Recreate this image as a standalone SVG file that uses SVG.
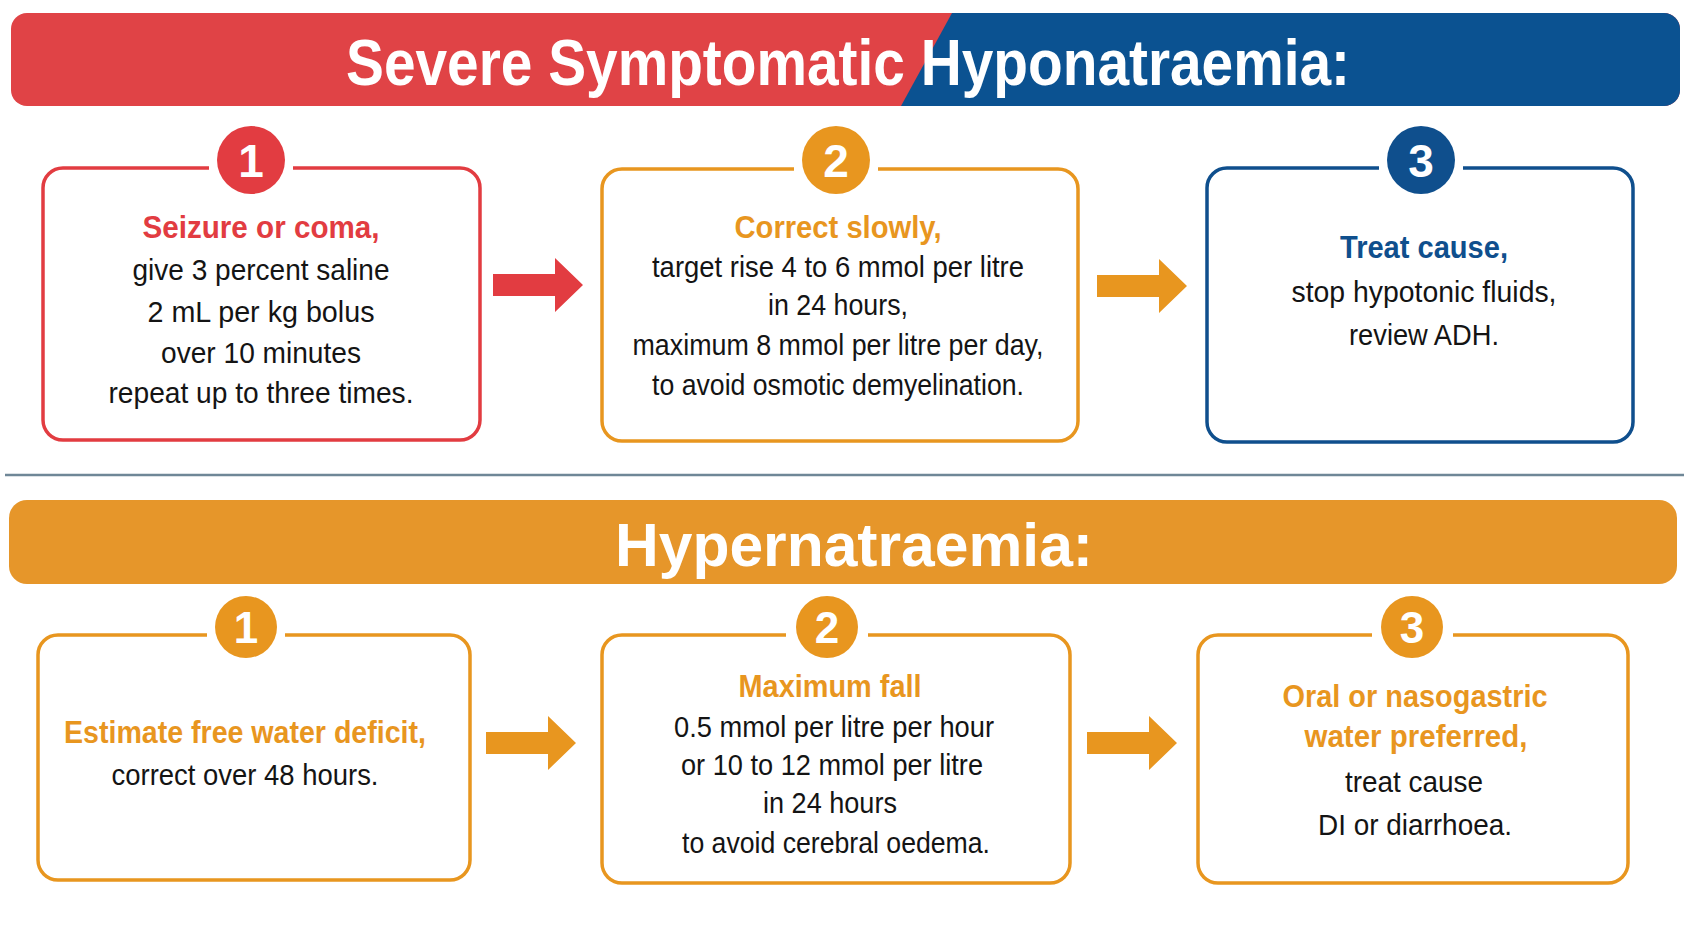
<svg xmlns="http://www.w3.org/2000/svg" width="1693" height="929" viewBox="0 0 1693 929">
  <style>
    .bg { fill: #ffffff; }
    .box { fill: #ffffff; stroke-width: 3.5; }
    .gap { fill: #ffffff; }
    .red { stroke: #E23C41; }
    .orange { stroke: #E8961F; }
    .blue { stroke: #0F4F8D; }
    .fill-red { fill: #E23C41; }
    .fill-orange { fill: #E8961F; }
    .fill-blue { fill: #0F4F8D; }
    .num { font-family: "Liberation Sans", Arial, sans-serif; font-weight: bold; fill: #ffffff; text-anchor: middle; }
    .head { font-family: "Liberation Sans", Arial, sans-serif; font-weight: bold; font-size: 31px; text-anchor: middle; }
    .body { font-family: "Liberation Sans", Arial, sans-serif; font-size: 29px; fill: #141414; text-anchor: middle; }
    .title { font-family: "Liberation Sans", Arial, sans-serif; font-weight: bold; fill: #ffffff; text-anchor: middle; }
  </style>
  <defs>
    <clipPath id="titleClip">
      <rect x="11" y="13" width="1669" height="93" rx="16"/>
    </clipPath>
    <!-- block arrow, origin at the left end of the shaft -->
    <path id="blockArrow" d="M0,-11 H62 V-27 L90,0 L62,27 V11 H0 Z"/>
  </defs>

  <rect class="bg" x="0" y="0" width="1693" height="929"/>

  <!-- Title bar: hyponatraemia -->
  <g id="title-hypo">
    <g clip-path="url(#titleClip)">
      <rect x="11" y="13" width="1669" height="93" fill="#E04346"/>
      <polygon points="952,13 1680,13 1680,106 901,106" fill="#0B5291"/>
    </g>
    <text class="title" x="848" y="85" font-size="64" textLength="1004" lengthAdjust="spacingAndGlyphs">Severe Symptomatic Hyponatraemia:</text>
  </g>

  <!-- Step 1: seizure or coma -->
  <g id="hypo-step1">
    <rect class="box red" x="43" y="168" width="437" height="272" rx="20"/>
    <rect class="gap" x="209" y="163" width="84" height="10"/>
    <circle class="fill-red" cx="251" cy="160" r="34"/>
    <text class="num" x="251" y="177" font-size="46">1</text>
    <text class="head" x="261" y="238" fill="#E23C41" textLength="237" lengthAdjust="spacingAndGlyphs">Seizure or coma,</text>
    <text class="body" x="261" y="280" textLength="257" lengthAdjust="spacingAndGlyphs">give 3 percent saline</text>
    <text class="body" x="261" y="322" textLength="227" lengthAdjust="spacingAndGlyphs">2 mL per kg bolus</text>
    <text class="body" x="261" y="363" textLength="200" lengthAdjust="spacingAndGlyphs">over 10 minutes</text>
    <text class="body" x="261" y="403" textLength="305" lengthAdjust="spacingAndGlyphs">repeat up to three times.</text>
  </g>

  <!-- Step 2: correct slowly -->
  <g id="hypo-step2">
    <rect class="box orange" x="602" y="169" width="476" height="272" rx="20"/>
    <rect class="gap" x="794" y="164" width="84" height="10"/>
    <circle class="fill-orange" cx="836" cy="160" r="34"/>
    <text class="num" x="836" y="177" font-size="46">2</text>
    <text class="head" x="838" y="238" fill="#E8961F" textLength="207" lengthAdjust="spacingAndGlyphs">Correct slowly,</text>
    <text class="body" x="838" y="277" textLength="372" lengthAdjust="spacingAndGlyphs">target rise 4 to 6 mmol per litre</text>
    <text class="body" x="838" y="315" textLength="140" lengthAdjust="spacingAndGlyphs">in 24 hours,</text>
    <text class="body" x="838" y="355" textLength="411" lengthAdjust="spacingAndGlyphs">maximum 8 mmol per litre per day,</text>
    <text class="body" x="838" y="395" textLength="372" lengthAdjust="spacingAndGlyphs">to avoid osmotic demyelination.</text>
  </g>

  <!-- Step 3: treat cause -->
  <g id="hypo-step3">
    <rect class="box blue" x="1207" y="168" width="426" height="274" rx="20"/>
    <rect class="gap" x="1379" y="163" width="84" height="10"/>
    <circle class="fill-blue" cx="1421" cy="160" r="34"/>
    <text class="num" x="1421" y="177" font-size="46">3</text>
    <text class="head" x="1424" y="258" fill="#0F4F8D" textLength="168" lengthAdjust="spacingAndGlyphs">Treat cause,</text>
    <text class="body" x="1424" y="302" textLength="265" lengthAdjust="spacingAndGlyphs">stop hypotonic fluids,</text>
    <text class="body" x="1424" y="345" textLength="150" lengthAdjust="spacingAndGlyphs">review ADH.</text>
  </g>

  <!-- Divider -->
  <line x1="5" y1="475" x2="1684" y2="475" stroke="#6F8797" stroke-width="2.5"/>

  <!-- Title bar: hypernatraemia -->
  <g id="title-hyper">
    <rect x="9" y="500" width="1668" height="84" rx="18" fill="#E6962A"/>
    <text class="title" x="854" y="566" font-size="61" textLength="478" lengthAdjust="spacingAndGlyphs">Hypernatraemia:</text>
  </g>

  <!-- Step 1: free water deficit -->
  <g id="hyper-step1">
    <rect class="box orange" x="38" y="635" width="432" height="245" rx="20"/>
    <rect class="gap" x="207" y="630" width="78" height="10"/>
    <circle class="fill-orange" cx="246" cy="627" r="31"/>
    <text class="num" x="246" y="643" font-size="44">1</text>
    <text class="head" x="245" y="743" fill="#E8961F" textLength="362" lengthAdjust="spacingAndGlyphs">Estimate free water deficit,</text>
    <text class="body" x="245" y="785" textLength="267" lengthAdjust="spacingAndGlyphs">correct over 48 hours.</text>
  </g>

  <!-- Step 2: maximum fall -->
  <g id="hyper-step2">
    <rect class="box orange" x="602" y="635" width="468" height="248" rx="20"/>
    <rect class="gap" x="786" y="630" width="82" height="10"/>
    <circle class="fill-orange" cx="827" cy="627" r="31"/>
    <text class="num" x="827" y="643" font-size="44">2</text>
    <text class="head" x="830" y="697" fill="#E8961F" textLength="183" lengthAdjust="spacingAndGlyphs">Maximum fall</text>
    <text class="body" x="834" y="737" textLength="320" lengthAdjust="spacingAndGlyphs">0.5 mmol per litre per hour</text>
    <text class="body" x="832" y="775" textLength="302" lengthAdjust="spacingAndGlyphs">or 10 to 12 mmol per litre</text>
    <text class="body" x="830" y="813" textLength="134" lengthAdjust="spacingAndGlyphs">in 24 hours</text>
    <text class="body" x="836" y="853" textLength="308" lengthAdjust="spacingAndGlyphs">to avoid cerebral oedema.</text>
  </g>

  <!-- Step 3: oral or nasogastric water -->
  <g id="hyper-step3">
    <rect class="box orange" x="1198" y="635" width="430" height="248" rx="20"/>
    <rect class="gap" x="1372" y="630" width="81" height="10"/>
    <circle class="fill-orange" cx="1412" cy="627" r="31"/>
    <text class="num" x="1412" y="643" font-size="44">3</text>
    <text class="head" x="1415" y="707" fill="#E8961F" textLength="265" lengthAdjust="spacingAndGlyphs">Oral or nasogastric</text>
    <text class="head" x="1416" y="747" fill="#E8961F" textLength="223" lengthAdjust="spacingAndGlyphs">water preferred,</text>
    <text class="body" x="1414" y="792" textLength="138" lengthAdjust="spacingAndGlyphs">treat cause</text>
    <text class="body" x="1415" y="835" textLength="194" lengthAdjust="spacingAndGlyphs">DI or diarrhoea.</text>
  </g>

  <!-- Connectors -->
  <g id="connectors">
    <use href="#blockArrow" x="493" y="285" fill="#E23C41"/>
    <use href="#blockArrow" x="1097" y="286" fill="#E8961F"/>
    <use href="#blockArrow" x="486" y="743" fill="#E8961F"/>
    <use href="#blockArrow" x="1087" y="743" fill="#E8961F"/>
  </g>
</svg>
